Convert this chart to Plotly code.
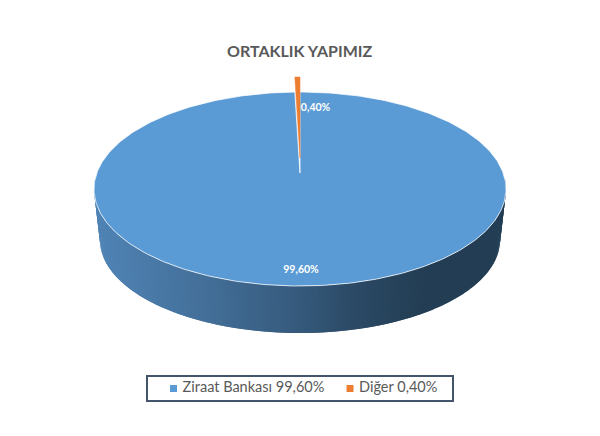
#!/usr/bin/env python3
"""Tilted 3D style pie: ORTAKLIK YAPIMIZ"""
import numpy as np
import plotly.graph_objects as go

# Data
labels = ["Ziraat Bankası", "Diğer"]
values = [99.60, 0.40]
colors = ["#5B9BD5", "#ED7D31"]
title = "ORTAKLIK YAPIMIZ"

# Geometry of the tilted disc, in page pixels
cx = 300
top_cy, top_rx, top_ry = 189, 206, 97
bot_cy, bot_rx, bot_ry = 240, 200, 93
apex_y = 173
explode = 15

# Side wall shading, left to right
wall_stops = [0.0, 0.25, 0.5, 0.62, 0.8, 1.0]
wall_cols = [(80, 132, 182), (68, 112, 154), (53, 89, 123), (44, 74, 102), (35, 62, 84), (35, 62, 84)]

# Hand placed legend row: marker x and y
legend_x = [173.5, 350]
legend_y = 388.5

# The page body has an 8px margin, so the plot only covers 8..600 and 8..436
page_margin = 8


def pct(v):
    return f"{v:.2f}%".replace(".", ",")


def rim(theta):
    return cx + top_rx * np.sin(theta), top_cy - top_ry * np.cos(theta)


def wall_color(frac):
    rgb = [np.interp(frac, wall_stops, [c[i] for c in wall_cols]) for i in range(3)]
    return "rgb(%d,%d,%d)" % tuple(rgb)


fig = go.Figure()

# Side wall, thin strips overlapping the previous one so no seams show
edges = np.linspace(np.radians(84), np.radians(276), 161)
for a, b in zip(edges[:-1], edges[1:]):
    ts = np.array([a - 0.02, b])
    xt, yt = rim(ts)
    xb = cx + bot_rx * np.sin(ts)
    yb = bot_cy - bot_ry * np.cos(ts)
    col = wall_color((np.sin((a + b) / 2) + 1) / 2)
    fig.add_trace(go.Scatter(
        x=[xt[0], xt[1], xb[1], xb[0]],
        y=[yt[0], yt[1], yb[1], yb[0]],
        mode="lines", fill="toself", fillcolor=col,
        line=dict(width=0),
        showlegend=False, hoverinfo="skip",
    ))

# Top faces, angles come from the values
total = sum(values)
blue_end = 2 * np.pi * values[0] / total
t = np.linspace(0, blue_end, 400)
xr, yr = rim(t)
fig.add_trace(go.Scatter(
    x=np.r_[cx, xr, cx], y=np.r_[apex_y, yr, apex_y],
    mode="lines", fill="toself", fillcolor=colors[0],
    line=dict(color="white", width=0.75),
    showlegend=False, hoverinfo="skip",
))
t = np.linspace(blue_end, 2 * np.pi, 20)
xr, yr = rim(t)
fig.add_trace(go.Scatter(
    x=np.r_[cx, xr, cx], y=np.r_[apex_y - explode, yr - explode, apex_y - explode],
    mode="lines", fill="toself", fillcolor=colors[1],
    line=dict(color=colors[1], width=0.5),
    showlegend=False, hoverinfo="skip",
))

# Slice labels
fig.add_trace(go.Scatter(
    x=[301, 315.5], y=[270.5, 108.5],
    mode="text", text=[pct(v) for v in values],
    textfont=dict(family="Lato", size=10.5, color="white", weight="bold"),
    showlegend=False, hoverinfo="skip",
))

# Legend entries, the no-break space keeps the text off the marker
for name, v, col, lx in zip(labels, values, colors, legend_x):
    fig.add_trace(go.Scatter(
        x=[lx], y=[legend_y], mode="markers+text",
        text=[f"\u00a0{name} {pct(v)}"], textposition="middle right",
        textfont=dict(family="Lato", size=14.5, color="#595959"),
        marker=dict(symbol="square", size=7, color=col),
        showlegend=False, hoverinfo="skip",
    ))

fig.update_layout(
    width=600 - page_margin, height=436 - page_margin,
    margin=dict(l=0, r=0, t=0, b=0),
    paper_bgcolor="white", plot_bgcolor="white",
    xaxis=dict(range=[page_margin, 600], visible=False, fixedrange=True),
    yaxis=dict(range=[436, page_margin], visible=False, fixedrange=True),
    showlegend=False,
    shapes=[dict(type="rect", x0=147, x1=453, y0=376, y1=401,
                 line=dict(color="#44546A", width=2))],
    annotations=[dict(
        text=f"<b>{title}</b>", x=300, y=50, xref="x", yref="y", showarrow=False,
        font=dict(family="Lato", size=16, color="#595959"),
    )],
)

fig.write_html("out.html")
